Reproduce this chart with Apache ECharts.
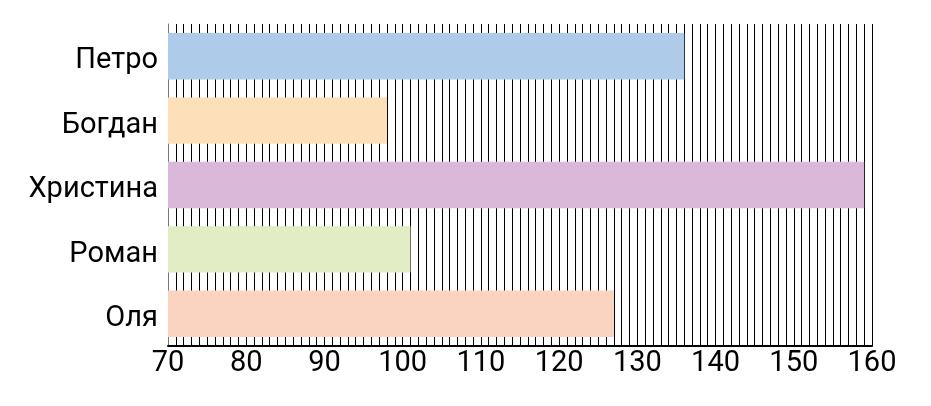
<!DOCTYPE html>
<html>
<head>
<meta charset="utf-8">
<script src="https://cdn.jsdelivr.net/npm/echarts@6/dist/echarts.min.js"></script>
<style>
  html, body { margin: 0; padding: 0; background: #fff; }
  #chart { width: 931px; height: 406px; }
</style>
</head>
<body>
<div id="chart"></div>
<script>
  // імена та значення
  var names = ['Петро', 'Богдан', 'Христина', 'Роман', 'Оля'];
  var values = [136, 98, 159, 101, 127];
  var barColors = ['#aecbea', '#fde0b9', '#d9b8d9', '#e2edc5', '#fbd3c1'];
  var xMin = 70, xMax = 160;

  var chart = echarts.init(document.getElementById('chart'));
  var data = [];
  for (var i = 0; i < values.length; i++) {
    data.push({ value: values[i], itemStyle: { color: barColors[i] } });
  }
  var option = {
    animation: false,
    grid: { left: 168, right: 59, top: 24, bottom: 60 },
    xAxis: {
      type: 'value',
      min: xMin,
      max: xMax,
      interval: 1,
      axisLine: { show: true, lineStyle: { color: '#000', width: 2 } },
      axisTick: { show: false },
      splitLine: { show: true, lineStyle: { color: '#000', width: 1 } },
      axisLabel: {
        color: '#000',
        fontFamily: 'Roboto',
        fontSize: 29,
        margin: 3,
        formatter: function (v) { return v % 10 === 0 ? String(v) : ''; }
      }
    },
    yAxis: {
      type: 'category',
      inverse: true,
      data: names,
      axisLine: { show: true, lineStyle: { color: '#777', width: 1 } },
      axisTick: { show: false },
      axisLabel: {
        margin: 10,
        formatter: function (v) { return '{n|' + v + '}'; },
        rich: {
          n: { color: '#000', fontFamily: 'Roboto', fontSize: 29, padding: [10, 0, 0, 0] }
        }
      }
    },
    series: [{
      type: 'bar',
      barCategoryGap: '28%',
      data: data
    }]
  };
  chart.setOption(option);
</script>
</body>
</html>
